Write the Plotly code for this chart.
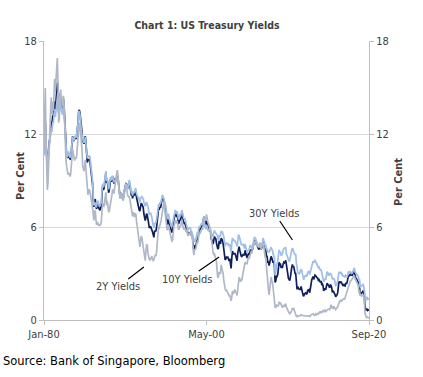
import plotly.graph_objects as go
import pandas as pd

dates = pd.date_range("1980-01-01", "2020-09-01", freq="MS")

y2 = [
11.12,13.60,14.97,11.84,9.39,8.40,8.85,10.42,11.56,12.26,13.64,14.36,
13.27,14.05,13.52,14.42,15.57,14.75,15.49,16.20,16.90,15.40,12.73,13.04,
14.57,14.86,14.19,14.23,13.81,14.46,14.07,12.37,11.58,10.31,9.89,9.69,
9.38,9.50,9.43,9.26,9.38,9.98,10.57,11.02,10.72,10.35,10.29,10.49,
10.40,10.59,11.22,11.62,12.39,12.71,12.62,12.18,11.79,11.03,9.99,9.77,
9.60,9.91,10.34,9.73,8.95,8.10,8.08,8.36,8.43,8.29,7.94,7.48,
7.47,7.19,6.67,6.42,7.01,7.06,6.49,6.14,6.29,6.26,6.08,6.14,
6.11,6.16,6.30,7.01,7.54,7.36,7.34,7.63,8.20,8.24,7.40,7.68,
7.35,6.95,7.02,7.32,7.82,7.82,8.07,8.42,8.35,8.15,8.51,8.80,
8.99,9.24,9.67,9.35,8.97,8.22,7.82,8.00,8.09,7.88,7.76,7.71,
7.99,8.23,8.41,8.65,8.49,8.18,8.01,7.96,7.95,7.77,7.47,7.09,
6.87,6.69,6.96,6.74,6.65,6.85,6.83,6.37,6.05,5.60,5.16,4.80,
4.72,5.06,5.41,5.31,5.04,4.87,4.45,4.12,3.83,4.39,4.85,4.83,
4.36,4.01,3.91,3.87,4.00,4.06,4.12,3.90,3.83,3.89,4.16,4.21,
4.13,4.39,4.93,5.48,5.97,5.94,6.11,6.17,6.44,6.75,7.16,7.61,
7.66,7.24,6.89,6.68,6.27,5.80,5.89,6.10,5.89,5.71,5.50,5.29,
5.09,5.12,5.72,6.03,6.21,6.44,6.39,6.24,6.40,6.08,5.82,5.91,
6.07,6.02,6.31,6.48,6.24,6.08,5.83,5.93,5.84,5.75,5.80,5.77,
5.42,5.49,5.61,5.61,5.63,5.52,5.46,5.27,4.62,4.18,4.57,4.51,
4.62,4.88,5.05,4.98,5.25,5.62,5.55,5.68,5.66,5.86,5.86,6.10,
6.44,6.61,6.53,6.40,6.81,6.48,6.34,6.23,6.08,5.91,5.88,5.35,
4.76,4.66,4.34,4.23,4.26,4.08,4.04,3.76,3.12,2.73,2.78,3.11,
3.03,3.02,3.56,3.42,3.26,2.99,2.56,2.13,2.00,1.91,1.92,1.84,
1.74,1.63,1.57,1.62,1.42,1.23,1.47,1.86,1.71,1.75,1.93,1.91,
1.76,1.74,1.58,2.07,2.53,2.76,2.64,2.51,2.53,2.58,2.85,3.01,
3.22,3.38,3.73,3.65,3.64,3.64,3.87,4.04,3.95,4.17,4.33,4.39,
4.35,4.64,4.74,4.89,4.97,5.12,5.12,4.90,4.77,4.80,4.74,4.67,
4.88,4.85,4.57,4.67,4.77,4.96,4.82,4.34,4.06,3.97,3.34,3.12,
2.48,1.97,1.62,2.05,2.45,2.77,2.57,2.42,2.08,1.61,1.25,0.82,
0.81,0.98,0.93,0.93,0.92,1.18,1.02,1.12,0.96,0.95,0.80,0.87,
0.93,0.86,0.96,1.06,0.83,0.72,0.62,0.52,0.47,0.38,0.45,0.62,
0.61,0.77,0.70,0.73,0.56,0.41,0.41,0.23,0.21,0.28,0.25,0.26,
0.24,0.28,0.34,0.29,0.29,0.29,0.25,0.27,0.26,0.28,0.27,0.26,
0.27,0.27,0.26,0.23,0.25,0.33,0.34,0.36,0.40,0.34,0.30,0.34,
0.39,0.33,0.40,0.42,0.39,0.45,0.51,0.47,0.57,0.45,0.54,0.64,
0.55,0.62,0.64,0.54,0.61,0.69,0.67,0.70,0.71,0.64,0.88,0.98,
0.90,0.73,0.88,0.77,0.82,0.73,0.67,0.74,0.77,0.84,0.98,1.20,
1.21,1.20,1.31,1.24,1.30,1.34,1.37,1.34,1.38,1.57,1.70,1.84,
2.03,2.18,2.28,2.38,2.51,2.53,2.61,2.64,2.77,2.86,2.86,2.68,
2.54,2.50,2.41,2.34,2.21,1.81,1.84,1.57,1.65,1.55,1.61,1.61,
1.52,1.33,0.45,0.23,0.17,0.19,0.14,0.14,0.13,
]

y10 = [
10.80,12.41,12.75,11.47,10.18,9.78,10.25,11.10,11.51,11.75,12.68,12.84,
12.57,13.19,13.12,13.68,14.10,13.47,14.28,14.94,15.32,15.15,13.39,13.72,
14.59,14.43,13.86,13.87,13.62,14.30,13.95,13.06,12.34,10.91,10.55,10.54,
10.46,10.72,10.51,10.40,10.38,10.85,11.38,11.85,11.65,11.54,11.69,11.83,
11.67,11.84,12.32,12.63,13.41,13.56,13.36,12.72,12.52,12.16,11.57,11.50,
11.38,11.51,11.86,11.43,10.85,10.16,10.31,10.33,10.37,10.24,9.78,9.26,
9.19,8.70,7.78,7.30,7.71,7.80,7.30,7.17,7.45,7.43,7.25,7.11,
7.08,7.25,7.25,8.02,8.61,8.40,8.45,8.76,9.42,9.52,8.86,8.99,
8.67,8.21,8.37,8.72,9.09,8.92,9.06,9.26,8.98,8.80,8.96,9.11,
9.09,9.17,9.36,9.18,8.86,8.28,8.02,8.11,8.19,8.01,7.87,7.84,
8.21,8.47,8.59,8.79,8.76,8.48,8.47,8.75,8.89,8.72,8.39,8.08,
8.09,7.85,8.11,8.04,8.07,8.28,8.27,7.90,7.65,7.53,7.42,7.09,
7.03,7.34,7.54,7.48,7.39,7.26,6.84,6.59,6.42,6.59,6.87,6.77,
6.60,6.26,5.98,5.97,6.04,5.96,5.81,5.68,5.36,5.33,5.72,5.77,
5.75,5.97,6.48,6.97,7.18,7.10,7.30,7.24,7.46,7.74,7.96,7.81,
7.78,7.47,7.20,7.06,6.63,6.17,6.28,6.49,6.20,6.04,5.93,5.71,
5.65,5.81,6.27,6.51,6.74,6.91,6.87,6.64,6.83,6.53,6.20,6.30,
6.58,6.42,6.69,6.89,6.71,6.49,6.22,6.30,6.21,6.03,5.88,5.81,
5.54,5.57,5.65,5.64,5.65,5.50,5.46,5.34,4.81,4.53,4.83,4.65,
4.72,5.00,5.23,5.18,5.54,5.90,5.79,5.94,5.92,6.11,6.03,6.28,
6.66,6.52,6.26,5.99,6.44,6.10,6.05,5.83,5.80,5.74,5.72,5.24,
5.16,5.10,4.89,5.14,5.39,5.28,5.24,4.97,4.73,4.57,4.65,5.09,
5.04,4.91,5.28,5.21,5.16,4.93,4.65,4.26,3.87,3.94,4.05,4.03,
4.05,3.90,3.81,3.96,3.57,3.33,3.98,4.45,4.27,4.29,4.30,4.27,
4.15,4.08,3.83,4.35,4.72,4.73,4.50,4.28,4.13,4.10,4.19,4.23,
4.22,4.17,4.50,4.34,4.14,4.00,4.18,4.26,4.20,4.46,4.54,4.47,
4.42,4.57,4.72,4.99,5.11,5.11,5.09,4.88,4.72,4.73,4.60,4.56,
4.76,4.72,4.56,4.69,4.75,5.10,5.00,4.67,4.52,4.53,4.15,4.10,
3.74,3.74,3.51,3.68,3.88,4.10,4.01,3.89,3.69,3.81,3.53,2.42,
2.52,2.87,2.82,2.93,3.29,3.72,3.56,3.59,3.40,3.39,3.40,3.59,
3.73,3.69,3.73,3.85,3.42,3.20,3.01,2.70,2.65,2.54,2.76,3.29,
3.39,3.58,3.41,3.46,3.17,3.00,3.00,2.30,1.98,2.15,2.01,1.98,
1.97,1.97,2.17,2.05,1.80,1.62,1.53,1.68,1.72,1.75,1.65,1.72,
1.91,1.98,1.96,1.76,1.93,2.30,2.58,2.74,2.81,2.62,2.72,2.90,
2.86,2.71,2.72,2.71,2.56,2.60,2.54,2.42,2.53,2.30,2.33,2.21,
1.88,1.98,2.04,1.94,2.20,2.36,2.32,2.17,2.17,2.07,2.26,2.24,
2.09,1.78,1.89,1.81,1.81,1.64,1.50,1.56,1.63,1.76,2.14,2.49,
2.43,2.42,2.48,2.30,2.30,2.19,2.32,2.21,2.20,2.36,2.35,2.40,
2.58,2.86,2.84,2.87,2.98,2.91,2.89,2.89,3.00,3.15,3.12,2.83,
2.71,2.68,2.57,2.53,2.40,2.07,2.06,1.63,1.70,1.71,1.81,1.86,
1.76,1.50,0.87,0.66,0.67,0.73,0.62,0.65,0.68,
]

y30 = [
10.60,12.13,12.34,11.40,10.36,9.81,10.24,11.00,11.34,11.59,12.37,12.40,
12.14,12.80,12.69,13.20,13.60,13.10,13.51,14.07,14.57,14.68,13.35,13.45,
14.22,14.22,13.53,13.37,13.24,13.92,13.55,12.77,12.07,11.17,10.54,10.54,
10.63,10.88,10.63,10.48,10.53,10.93,11.40,11.82,11.63,11.58,11.75,11.88,
11.75,11.95,12.38,12.65,13.43,13.44,13.21,12.54,12.29,11.98,11.56,11.52,
11.45,11.47,11.81,11.47,11.05,10.44,10.50,10.56,10.61,10.50,10.06,9.54,
9.40,8.93,7.96,7.39,7.52,7.57,7.27,7.33,7.62,7.70,7.52,7.37,
7.39,7.54,7.55,8.25,8.78,8.57,8.64,8.97,9.59,9.61,8.95,9.12,
8.83,8.43,8.63,8.95,9.23,9.00,9.14,9.32,9.06,8.89,9.02,9.01,
8.93,9.01,9.17,9.03,8.83,8.27,8.08,8.12,8.15,8.00,7.90,7.90,
8.26,8.50,8.56,8.76,8.73,8.46,8.50,8.86,9.03,8.86,8.54,8.24,
8.27,8.03,8.29,8.21,8.27,8.47,8.45,8.14,7.95,7.93,7.92,7.70,
7.58,7.85,7.97,7.96,7.89,7.84,7.60,7.39,7.34,7.53,7.61,7.44,
7.34,7.09,6.82,6.85,6.92,6.81,6.63,6.32,6.00,5.94,6.21,6.25,
6.29,6.49,6.91,7.27,7.41,7.40,7.58,7.49,7.71,7.94,8.08,7.87,
7.85,7.61,7.45,7.36,6.95,6.57,6.72,6.86,6.55,6.37,6.26,6.06,
6.05,6.24,6.60,6.79,6.93,7.06,7.03,6.84,7.03,6.81,6.48,6.55,
6.83,6.69,6.93,7.09,6.94,6.77,6.51,6.58,6.50,6.33,6.11,5.99,
5.81,5.89,5.95,5.92,5.93,5.70,5.68,5.54,5.20,5.01,5.25,5.06,
5.16,5.37,5.58,5.55,5.81,6.04,5.98,6.07,6.07,6.26,6.15,6.35,
6.63,6.23,6.05,5.85,6.15,5.93,5.85,5.72,5.83,5.80,5.78,5.49,
5.54,5.45,5.34,5.65,5.78,5.67,5.61,5.48,5.48,5.32,5.12,5.48,
5.45,5.40,5.71,5.68,5.67,5.52,5.39,5.08,4.76,4.93,4.96,4.92,
4.94,4.81,4.80,4.90,4.53,4.37,4.93,5.30,5.14,5.16,5.12,5.08,
4.97,4.92,4.74,5.16,5.47,5.45,5.24,5.07,4.89,4.85,4.89,4.88,
4.77,4.61,4.89,4.75,4.56,4.35,4.48,4.53,4.51,4.74,4.83,4.73,
4.65,4.73,4.91,5.22,5.35,5.29,5.25,5.08,4.93,4.94,4.78,4.78,
4.95,4.93,4.81,4.95,4.98,5.29,5.19,5.00,4.84,4.83,4.56,4.57,
4.35,4.49,4.36,4.44,4.60,4.69,4.57,4.50,4.27,4.17,4.00,2.87,
3.13,3.59,3.64,3.76,4.23,4.52,4.41,4.37,4.19,4.19,4.31,4.49,
4.60,4.62,4.64,4.69,4.29,4.13,3.99,3.80,3.77,3.87,4.19,4.42,
4.52,4.65,4.51,4.50,4.29,4.23,4.27,3.65,3.18,3.13,3.02,2.98,
3.03,3.11,3.28,3.18,2.93,2.70,2.59,2.77,2.88,2.90,2.80,2.88,
3.08,3.17,3.16,2.93,3.11,3.40,3.61,3.76,3.79,3.68,3.80,3.89,
3.77,3.66,3.62,3.52,3.39,3.42,3.33,3.20,3.26,3.04,3.04,2.83,
2.46,2.57,2.63,2.59,2.96,3.11,3.07,2.86,2.95,2.89,3.03,2.97,
2.86,2.62,2.68,2.62,2.63,2.45,2.23,2.26,2.35,2.50,2.86,3.11,
3.02,3.03,3.08,2.94,2.96,2.80,2.88,2.80,2.78,2.88,2.80,2.77,
2.88,3.13,3.09,3.07,3.13,3.05,3.01,3.04,3.15,3.34,3.36,3.10,
3.04,3.02,2.98,2.94,2.82,2.57,2.57,2.12,2.16,2.19,2.28,2.30,
2.22,1.97,1.46,1.27,1.38,1.49,1.31,1.36,1.42,
]

x_tick_vals = ["1980-01-01", "2000-05-01", "2020-09-01"]
x_tick_text = ["Jan-80", "May-00", "Sep-20"]
y_tick_vals = [0, 6, 12, 18]
y_tick_text = ["0", "6", "12", "18"]

font_fam = "DejaVu Sans Condensed, DejaVu Sans, sans-serif"
src_fam = "DejaVu Sans, sans-serif"
txt = "#404040"

fig = go.Figure()
fig.add_trace(go.Scatter(x=dates, y=y10, mode="lines", name="10Y Yields",
                         line=dict(color="#0f1f5a", width=1.7)))
fig.add_trace(go.Scatter(x=dates, y=y30, mode="lines", name="30Y Yields",
                         line=dict(color="#9fbfe6", width=1.7)))
fig.add_trace(go.Scatter(x=dates, y=y2, mode="lines", name="2Y Yields",
                         line=dict(color="#b0b8c8", width=1.7), yaxis="y2"))

axis_y = dict(range=[0, 18], tickvals=y_tick_vals, ticktext=y_tick_text,
              ticks="outside", ticklen=4, tickcolor="#bfbfbf",
              showline=True, linecolor="#bfbfbf", linewidth=1,
              tickfont=dict(family=font_fam, size=11, color=txt),
              zeroline=False, fixedrange=True)

fig.update_layout(
    width=423, height=377,
    margin=dict(l=44, r=54, t=41, b=57),
    paper_bgcolor="white", plot_bgcolor="white",
    showlegend=False,
    title=dict(text="<b>Chart 1: US Treasury Yields</b>", x=207 / 423, xanchor="center",
               y=1 - 25 / 377, yanchor="middle",
               font=dict(family=font_fam, size=10.5, color=txt)),
    xaxis=dict(type="date", range=["1980-01-01", "2020-09-01"],
               tickvals=x_tick_vals, ticktext=x_tick_text,
               ticks="outside", ticklen=4, tickcolor="#bfbfbf",
               showline=True, linecolor="#bfbfbf", linewidth=1,
               showgrid=False, fixedrange=True,
               tickfont=dict(family=font_fam, size=11, color=txt)),
    yaxis=dict(**axis_y, side="left", showgrid=True, gridcolor="#d9d9d9", gridwidth=1),
    yaxis2=dict(**axis_y, side="right", overlaying="y", showgrid=False),
    annotations=[
        dict(text="<b>Per Cent</b>", x=(20 - 44) / 325, y=(320 - 176) / 279,
             xref="paper", yref="paper", xanchor="center", yanchor="middle",
             textangle=-90, showarrow=False,
             font=dict(family=font_fam, size=11, color=txt)),
        dict(text="<b>Per Cent</b>", x=(398 - 44) / 325, y=(320 - 182) / 279,
             xref="paper", yref="paper", xanchor="center", yanchor="middle",
             textangle=-90, showarrow=False,
             font=dict(family=font_fam, size=11, color=txt)),
        dict(text="30Y Yields", x="2011-02-01", y=5.16, xref="x", yref="y",
             showarrow=True, ax=-18, ay=-27, axref="pixel", ayref="pixel",
             arrowhead=0, arrowwidth=1.2, arrowcolor="#000000",
             font=dict(family=font_fam, size=11, color=txt)),
        dict(text="10Y Yields", x="2001-12-01", y=4.06, xref="x", yref="y",
             showarrow=True, ax=-32, ay=22, axref="pixel", ayref="pixel",
             arrowhead=0, arrowwidth=1.2, arrowcolor="#000000",
             font=dict(family=font_fam, size=11, color=txt)),
        dict(text="2Y Yields", x="1992-07-01", y=3.42, xref="x", yref="y",
             showarrow=True, ax=-26, ay=20, axref="pixel", ayref="pixel",
             arrowhead=0, arrowwidth=1.2, arrowcolor="#000000",
             font=dict(family=font_fam, size=11, color=txt)),
        dict(text="Source: Bank of Singapore, Bloomberg", x=-43 / 325, y=(320 - 361) / 279,
             xref="paper", yref="paper", xanchor="left", yanchor="middle", showarrow=False,
             font=dict(family=src_fam, size=11.5, color="#000000")),
    ],
)

fig.write_html("out.html", config={"displayModeBar": False},
               post_script="document.body.style.margin='0';")
